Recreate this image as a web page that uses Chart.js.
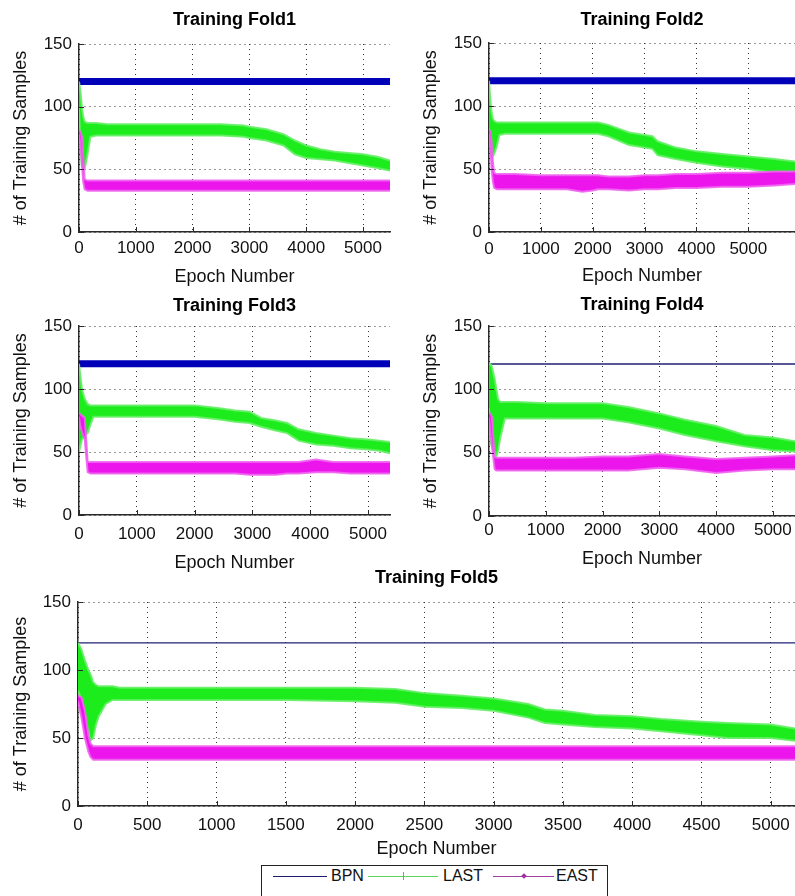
<!DOCTYPE html>
<html>
<head>
<meta charset="utf-8">
<title>Training folds</title>
<script src="https://cdn.jsdelivr.net/npm/chart.js@4.4.1/dist/chart.umd.min.js"></script>
<style>
  html, body { margin: 0; padding: 0; background: #fff; overflow: hidden; }
  body { width: 795px; height: 896px; position: relative; }
  canvas.fold { position: absolute; }
  .legend { position: absolute; left: 261px; top: 865px; width: 345px; height: 40px;
            border: 1px solid #222; background: #fff;
            font: 16px 'Liberation Sans', Arial, sans-serif; color: #111; }
  .legend .ln { position: absolute; top: 10px; height: 0; border-top: 1px solid; }
  .legend .tx { position: absolute; top: 1px; line-height: 18px; }
  .legend .plus { position: absolute; top: 6px; width: 0; height: 8px; border-left: 1px solid #4cc44c; }
  .legend .dia { position: absolute; top: 8px; width: 4px; height: 4px; background: #a030a0; transform: rotate(45deg); }
</style>
</head>
<body>
<div class="legend">
  <span class="ln" style="left:11px;width:54px;border-color:#1c1c70"></span>
  <span class="tx" style="left:69px">BPN</span>
  <span class="ln" style="left:106px;width:70px;border-color:#5fd25f"></span>
  <span class="plus" style="left:141px"></span>
  <span class="tx" style="left:181px">LAST</span>
  <span class="ln" style="left:231px;width:61px;border-color:#a040a0"></span>
  <span class="dia" style="left:260px"></span>
  <span class="tx" style="left:294px">EAST</span>
</div>
<script>
// ---- data: epoch samples and band envelopes (upper / lower) per fold ----
const yTickValues = [0, 50, 100, 150];
const xTicks1000 = [0, 1000, 2000, 3000, 4000, 5000];
const xTicks500 = [0, 500, 1000, 1500, 2000, 2500, 3000, 3500, 4000, 4500, 5000];
const foldEnds = [5475, 5900, 5380, 5390, 5175];
const bpnLevel = [120, 120];

const fold1Epochs = [0, 25, 50, 75, 100, 150, 200, 300, 500, 1000, 1500, 2000, 2500, 2900, 3000, 3300, 3600, 3800, 4000, 4250, 4500, 4750, 5000, 5250, 5475];
const fold1LastHigh = [120, 112, 100, 92, 88, 87, 87, 87, 86, 86, 86, 86, 86, 85, 84, 82, 78, 73, 69, 66, 64, 63, 62, 60, 57];
const fold1LastLow = [100, 70, 52, 50, 50, 62, 76, 77, 77, 77, 77, 77, 77, 76, 75, 73, 69, 62, 59, 58, 57, 55, 53, 51, 49];
const fold1EastHigh = [81, 80, 76, 60, 42, 41, 41, 41, 41, 41, 41, 41, 41, 41, 41, 41, 41, 41, 41, 41, 41, 41, 41, 41, 41];
const fold1EastLow = [78, 70, 55, 40, 34, 33, 33, 33, 33, 33, 33, 33, 33, 33, 33, 33, 33, 33, 33, 33, 33, 33, 33, 33, 33];

const fold2Epochs = [0, 25, 50, 75, 100, 150, 200, 300, 500, 1000, 1500, 1800, 2000, 2100, 2300, 2700, 3000, 3150, 3250, 3600, 4000, 4500, 5000, 5500, 5900];
const fold2LastHigh = [120, 105, 95, 90, 88, 87, 87, 87, 87, 87, 87, 87, 87, 87, 85, 79, 77, 76, 72, 67, 64, 62, 60, 58, 56];
const fold2LastLow = [82, 70, 62, 60, 62, 68, 77, 78, 78, 78, 78, 78, 78, 78, 76, 69, 67, 66, 61, 58, 55, 52, 50, 47, 44];
const fold2EastHigh = [81, 80, 72, 55, 47, 46, 46, 46, 46, 45, 45, 45, 45, 45, 44, 44, 45, 45, 45, 46, 46, 47, 47, 48, 48];
const fold2EastLow = [78, 68, 50, 40, 35, 34, 34, 34, 34, 34, 34, 32, 33, 34, 34, 33, 34, 34, 34, 35, 35, 36, 36, 37, 38];

const fold3Epochs = [0, 25, 50, 100, 150, 200, 250, 300, 500, 1000, 1500, 2000, 2400, 2700, 2950, 3150, 3400, 3600, 3800, 4100, 4400, 4700, 5000, 5200, 5380];
const fold3LastHigh = [120, 110, 100, 92, 88, 87, 87, 87, 87, 87, 87, 87, 85, 83, 82, 77, 75, 73, 68, 65, 63, 61, 60, 59, 58];
const fold3LastLow = [50, 55, 60, 63, 65, 72, 78, 78, 78, 78, 78, 78, 76, 74, 73, 70, 67, 65, 59, 56, 55, 53, 52, 51, 49];
const fold3EastHigh = [81, 80, 79, 77, 42, 42, 42, 42, 42, 42, 42, 42, 42, 42, 42, 42, 42, 42, 42, 44, 42, 42, 42, 42, 42];
const fold3EastLow = [78, 70, 66, 60, 34, 33, 33, 33, 33, 33, 33, 33, 33, 33, 32, 32, 32, 33, 33, 34, 34, 33, 33, 33, 33];

const fold4Epochs = [0, 25, 50, 100, 130, 160, 200, 280, 500, 1000, 1500, 2000, 2450, 3000, 3450, 4000, 4500, 5000, 5390];
const fold4LastHigh = [120, 120, 118, 108, 100, 92, 90, 90, 90, 89, 89, 89, 86, 81, 76, 71, 64, 62, 59];
const fold4LastLow = [85, 60, 55, 50, 47, 52, 62, 77, 77, 77, 77, 77, 74, 69, 64, 59, 55, 52, 51];
const fold4EastHigh = [81, 81, 78, 47, 46, 46, 46, 46, 46, 46, 46, 47, 47, 49, 47, 45, 46, 47, 48];
const fold4EastLow = [78, 66, 56, 37, 36, 36, 36, 36, 36, 36, 36, 36, 36, 38, 37, 34, 36, 37, 37];

const fold5Epochs = [0, 25, 50, 75, 90, 110, 130, 150, 200, 250, 300, 500, 1000, 1500, 2000, 2290, 2500, 2770, 3000, 3250, 3370, 3500, 3730, 4000, 4210, 4500, 4690, 5000, 5175];
const fold5LastHigh = [120, 115, 107, 100, 97, 91, 89, 88, 88, 88, 87, 87, 87, 87, 87, 86, 83, 81, 79, 75, 71, 70, 67, 66, 64, 62, 61, 60, 57];
const fold5LastLow = [85, 78, 66, 55, 48, 50, 60, 66, 75, 78, 78, 78, 78, 78, 77, 76, 73, 72, 70, 65, 61, 60, 58, 57, 55, 52, 50, 50, 48];
const fold5EastHigh = [81, 80, 70, 52, 46, 44, 44, 44, 44, 44, 44, 44, 44, 44, 44, 44, 44, 44, 44, 44, 44, 44, 44, 44, 44, 44, 44, 44, 44];
const fold5EastLow = [77, 65, 50, 40, 36, 34, 34, 34, 34, 34, 34, 34, 34, 34, 34, 34, 34, 34, 34, 34, 34, 34, 34, 34, 34, 34, 34, 34, 34];

// ---- styling ----
const FONT = "'Liberation Sans', Arial, Helvetica, sans-serif";
const AXIS = '#2a2a2a';
const GRID = '#333';
const LAST_FILL = 'rgb(28, 236, 28)';
const LAST_EDGE = 'rgba(100, 240, 100, 0.9)';
const EAST_FILL = 'rgb(236, 22, 236)';
const EAST_EDGE = 'rgba(240, 100, 240, 0.9)';

// MATLAB style ticks that point into the axes
const innerTicks = {
    id: 'innerTicks',
    afterDatasetsDraw(chart) {
        const { ctx, chartArea, scales: { x, y } } = chart;
        ctx.save();
        ctx.strokeStyle = AXIS;
        ctx.lineWidth = 1;
        ctx.beginPath();
        x.ticks.forEach(t => {
            const px = Math.round(x.getPixelForValue(t.value)) + 0.5;
            ctx.moveTo(px, chartArea.bottom);
            ctx.lineTo(px, chartArea.bottom - 5);
        });
        y.ticks.forEach(t => {
            const py = Math.round(y.getPixelForValue(t.value)) + 0.5;
            ctx.moveTo(chartArea.left, py);
            ctx.lineTo(chartArea.left + 5, py);
        });
        ctx.stroke();
        ctx.restore();
    }
};

const pts = (xs, ys) => xs.map((x, i) => ({ x: x, y: ys[i] }));
const plainNumber = v => String(v);

function makeFold(f) {
    const canvas = document.createElement('canvas');
    canvas.className = 'fold';
    canvas.width = f.box[2];
    canvas.height = f.box[3];
    canvas.style.left = f.box[0] + 'px';
    canvas.style.top = f.box[1] + 'px';
    document.body.appendChild(canvas);

    const line = { pointRadius: 0, tension: 0, borderWidth: 2 };

    new Chart(canvas, {
        type: 'line',
        data: {
            datasets: [
                { ...line, label: 'EAST low', data: pts(f.epochs, f.eastLow), borderColor: EAST_EDGE, fill: false },
                { ...line, label: 'EAST', data: pts(f.epochs, f.eastHigh), borderColor: EAST_EDGE, backgroundColor: EAST_FILL, fill: '-1' },
                { ...line, label: 'LAST low', data: pts(f.epochs, f.lastLow), borderColor: LAST_EDGE, fill: false },
                { ...line, label: 'LAST', data: pts(f.epochs, f.lastHigh), borderColor: LAST_EDGE, backgroundColor: LAST_FILL, fill: '-1' },
                { ...line, label: 'BPN', data: pts([0, f.end], bpnLevel), borderColor: f.bpnColor,
                  borderWidth: f.bpnWidth, borderCapStyle: 'round', fill: false }
            ]
        },
        options: {
            responsive: false,
            animation: false,
            devicePixelRatio: 1,
            layout: { padding: { left: 0, right: f.padRight, top: 0, bottom: 0 } },
            plugins: {
                legend: { display: false },
                tooltip: { enabled: false },
                title: {
                    display: true, text: f.title, fullSize: false, color: '#000',
                    font: { family: FONT, size: 18, weight: 'bold' },
                    padding: { top: 9, bottom: f.titleGap }
                }
            },
            scales: {
                x: {
                    type: 'linear', min: 0, max: f.end,
                    afterBuildTicks: s => { s.ticks = f.xTicks.map(v => ({ value: v })); },
                    afterFit: s => { s.height = f.xAxisH; s.paddingRight = 0; },
                    grid: { color: GRID, lineWidth: 1, drawTicks: false },
                    border: { color: AXIS, width: 1.5, dash: [1, 4] },
                    ticks: { color: '#111', font: { family: FONT, size: 17 }, padding: f.xTickPad,
                             maxRotation: 0, autoSkip: false, callback: plainNumber },
                    title: { display: true, text: 'Epoch Number', color: '#111',
                             font: { family: FONT, size: 18 }, padding: { top: 0, bottom: f.xTitlePad } }
                },
                y: {
                    min: 0, max: 150,
                    afterBuildTicks: s => { s.ticks = yTickValues.map(v => ({ value: v })); },
                    afterFit: s => { s.width = f.yAxisW; },
                    grid: { color: GRID, lineWidth: 1, drawTicks: false },
                    border: { color: AXIS, width: 1.5, dash: [1, 4] },
                    ticks: { color: '#111', font: { family: FONT, size: 17 }, padding: 7, callback: plainNumber },
                    title: { display: true, text: '# of Training Samples', color: '#111',
                             font: { family: FONT, size: 18 }, padding: { top: 10, bottom: 0 } }
                }
            }
        },
        plugins: [innerTicks]
    });
}

const thickBpn = 'rgb(0, 0, 185)';
const thinBpn = '#202070';

makeFold({ title: 'Training Fold1', box: [0, 0, 400, 290], padRight: 10, titleGap: 13.4, yAxisW: 79, xAxisH: 58,
           xTickPad: 6, xTitlePad: 2, end: foldEnds[0], xTicks: xTicks1000, bpnColor: thickBpn, bpnWidth: 7,
           epochs: fold1Epochs, lastHigh: fold1LastHigh, lastLow: fold1LastLow, eastHigh: fold1EastHigh, eastLow: fold1EastLow });
makeFold({ title: 'Training Fold2', box: [410, 0, 385, 290], padRight: 0, titleGap: 12.4, yAxisW: 79, xAxisH: 58,
           xTickPad: 7, xTitlePad: 3, end: foldEnds[1], xTicks: xTicks1000, bpnColor: thickBpn, bpnWidth: 7,
           epochs: fold2Epochs, lastHigh: fold2LastHigh, lastLow: fold2LastLow, eastHigh: fold2EastHigh, eastLow: fold2EastLow });
makeFold({ title: 'Training Fold3', box: [0, 286, 400, 290], padRight: 10, titleGap: 9.4, yAxisW: 79, xAxisH: 61,
           xTickPad: 9, xTitlePad: 2, end: foldEnds[2], xTicks: xTicks1000, bpnColor: thickBpn, bpnWidth: 7,
           epochs: fold3Epochs, lastHigh: fold3LastHigh, lastLow: fold3LastLow, eastHigh: fold3EastHigh, eastLow: fold3EastLow });
makeFold({ title: 'Training Fold4', box: [410, 285, 385, 290], padRight: 0, titleGap: 10.4, yAxisW: 79, xAxisH: 59,
           xTickPad: 4, xTitlePad: 5, end: foldEnds[3], xTicks: xTicks1000, bpnColor: thinBpn, bpnWidth: 1.3,
           epochs: fold4Epochs, lastHigh: fold4LastHigh, lastLow: fold4LastLow, eastHigh: fold4EastHigh, eastLow: fold4EastLow });
makeFold({ title: 'Training Fold5', box: [0, 558, 795, 306], padRight: 0, titleGap: 13.4, yAxisW: 78, xAxisH: 58,
           xTickPad: 9, xTitlePad: 4, end: foldEnds[4], xTicks: xTicks500, bpnColor: thinBpn, bpnWidth: 1.3,
           epochs: fold5Epochs, lastHigh: fold5LastHigh, lastLow: fold5LastLow, eastHigh: fold5EastHigh, eastLow: fold5EastLow });
</script>
</body>
</html>
